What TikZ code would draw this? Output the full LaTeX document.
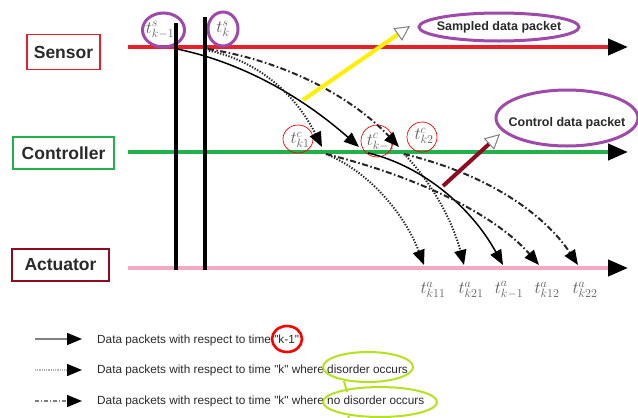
\documentclass[tikz,border=0pt]{standalone}
\usepackage{fontspec}
\newfontfamily\lab{Liberation Sans}
\usetikzlibrary{arrows.meta}
\definecolor{sred}{HTML}{E8202A}
\definecolor{cgreen}{HTML}{22B04B}
\definecolor{apink}{HTML}{F5A8C2}
\definecolor{amaroon}{HTML}{8E0B22}
\definecolor{mpurple}{HTML}{9E4AA8}
\definecolor{hyellow}{HTML}{FFF000}
\definecolor{lime}{HTML}{B4E21E}
\definecolor{txt}{HTML}{2A2A2A}
\definecolor{tlab}{HTML}{5E5E5E}
\tikzset{
  lanebox/.style={draw, line width=1.6pt, text=txt, inner sep=0pt,
    font=\lab\bfseries\fontsize{17.5}{18}\selectfont},
  laneline/.style={line width=4pt,
    -{Triangle[length=20pt,width=16pt,color=black,fill=black]}},
  timeline/.style={line width=4pt, black},
  tip/.style={-{Triangle[length=15pt,width=12pt,color=black,fill=black]}},
  solidpk/.style={tip, line width=1.5pt, black},
  dotpk/.style={tip, line width=2pt, black!85, dash pattern=on 1.3pt off 1.6pt},
  dashdotpk/.style={tip, line width=2pt, black!85,
    dash pattern=on 6pt off 2.5pt on 1.5pt off 2.5pt},
  tlabel/.style={text=tlab, font=\fontsize{18}{19}\selectfont, inner sep=0pt},
  alabel/.style={tlabel, font=\fontsize{16.5}{18}\selectfont},
  callout/.style={line width=4pt,
    -{Triangle[open,length=15pt,width=15pt,line width=1pt,color=gray,fill=white]}},
  calltext/.style={text=txt, font=\lab\bfseries\fontsize{12.5}{14}\selectfont},
  legtext/.style={text=txt, anchor=west, inner sep=0pt,
    font=\lab\fontsize{11.8}{13}\selectfont},
  legline/.style={line width=1.6pt,
    -{Triangle[length=15pt,width=12pt,color=black,fill=black]}},
}
\begin{document}
\begin{tikzpicture}[x=1pt,y=-1pt]
\fill[white] (0,0) rectangle (638,418);
\useasboundingbox (0,0) rectangle (638,418);

% lane labels
\node[lanebox, draw=sred, minimum width=73pt, minimum height=35pt] (sensor) at (63.5,52) {Sensor};
\node[lanebox, draw=cgreen, minimum width=101pt, minimum height=32pt] (controller) at (63.5,153) {Controller};
\node[lanebox, draw=amaroon, minimum width=97pt, minimum height=32pt] (actuator) at (60.5,265) {Actuator};

% lanes
\coordinate (s0) at (128,47);  \coordinate (s1) at (628,47);
\coordinate (c0) at (128,152); \coordinate (c1) at (628,152);
\coordinate (a0) at (128,268); \coordinate (a1) at (628,268);
\draw[laneline, draw=sred] (s0) -- (s1);
\draw[laneline, draw=cgreen] (c0) -- (c1);
\draw[laneline, draw=apink] (a0) -- (a1);

% sampling instants
\node[tlabel] (tsk1) at (160,30) {$t^{s}_{k-1}$};
\node[tlabel] (tsk) at (223,29) {$t^{s}_{k}$};
\draw[mpurple, line width=3pt] (163.5,30) ellipse [x radius=21pt, y radius=17pt];
\draw[mpurple, line width=3pt] (223,29) ellipse [x radius=15pt, y radius=17pt];
\coordinate (v1t) at (176,23); \coordinate (v1b) at (176,270);
\coordinate (v2t) at (205,17); \coordinate (v2b) at (205,270);
\draw[timeline] (v1t) -- (v1b);
\draw[timeline] (v2t) -- (v2b);

% controller instants
\node[tlabel] (tck1) at (300,140) {$t^{c}_{k1}$};
\node[tlabel] (tckm) at (381,142) {$t^{c}_{k-1}$};
\node[tlabel] (tck2) at (424,136) {$t^{c}_{k2}$};
\draw[red, line width=0.7pt] (298,139) ellipse [x radius=15pt, y radius=14pt];
\draw[red, line width=0.7pt] (377,141) ellipse [x radius=16pt, y radius=16pt];
\draw[red, line width=0.7pt] (422,137) ellipse [x radius=15pt, y radius=15pt];

% actuator instants
\node[alabel] (tak11) at (433,290) {$t^{a}_{k11}$};
\node[alabel] (tak21) at (471,290) {$t^{a}_{k21}$};
\node[alabel] (takm)  at (509,290) {$t^{a}_{k-1}$};
\node[alabel] (tak12) at (547,290) {$t^{a}_{k12}$};
\node[alabel] (tak22) at (585,290) {$t^{a}_{k22}$};

% sensor -> controller packets
\coordinate (ps1) at (177,49);
\coordinate (ps2) at (206,50);
\coordinate (ps3) at (208,49);
\coordinate (pc1) at (322,147);
\coordinate (pcm) at (359,147);
\coordinate (pc2) at (399,147);
\draw[solidpk] (ps1) .. controls (240,62) and (300,95) .. (pcm);
\draw[dotpk] (ps2) .. controls (258,60) and (296,95) .. (pc1);
\draw[dashdotpk] (ps3) .. controls (290,62) and (355,100) .. (pc2);

% controller -> actuator packets
\coordinate (qk1) at (326,154);
\coordinate (qkm) at (368,153);
\coordinate (qk2) at (404,154);
\coordinate (ak11) at (424,265);
\coordinate (ak21) at (464,265);
\coordinate (akm) at (503,265);
\coordinate (ak12) at (539,265);
\coordinate (ak22) at (578,265);
\draw[dotpk] (qk1) .. controls (370,172) and (405,215) .. (ak11);
\draw[dotpk] (qk2) .. controls (428,178) and (452,218) .. (ak21);
\draw[solidpk] (qkm) .. controls (420,165) and (470,205) .. (akm);
\draw[dashdotpk] (qk1) .. controls (430,180) and (500,220) .. (ak12);
\draw[dashdotpk] (qk2) .. controls (490,175) and (545,215) .. (ak22);

% callouts
\node[calltext] (sdp) at (499,27) {Sampled data packet};
\draw[mpurple, line width=3pt] (sdp) ellipse [x radius=80pt, y radius=14pt];
\coordinate (y0) at (303,100);
\coordinate (y1) at (410,26);
\draw[callout, draw=hyellow] (y0) -- (y1);

\node[calltext] (cdp) at (567,123) {Control data packet};
\draw[mpurple, line width=3pt] (567,118) ellipse [x radius=71pt, y radius=28pt];
\coordinate (m0) at (443,186);
\coordinate (m1) at (500,134);
\draw[callout, draw=amaroon] (m0) -- (m1);

% legend
\coordinate (l1a) at (35,339); \coordinate (l1b) at (82,339);
\coordinate (l2a) at (35,370); \coordinate (l2b) at (82,370);
\coordinate (l3a) at (35,401); \coordinate (l3b) at (82,401);
\draw[legline, draw=gray] (l1a) -- (l1b);
\draw[legline, draw=gray!60, line width=1.4pt, dash pattern=on 1pt off 0.8pt] (l2a) -- (l2b);
\draw[legline, draw=gray, line width=1.4pt, dash pattern=on 4pt off 2pt on 1pt off 2pt] (l3a) -- (l3b);
\node[legtext] (leg1) at (97,340) {Data packets with respect to time "k-1"};
\node[legtext] (leg2) at (97,370) {Data packets with respect to time "k" where disorder occurs};
\node[legtext] (leg3) at (97,401) {Data packets with respect to time "k" where no disorder occurs};
\draw[red, line width=2.6pt] (287,339) ellipse [x radius=15pt, y radius=13pt];
\draw[lime, line width=2pt] (368,367) ellipse [x radius=45pt, y radius=15pt];
\draw[lime, line width=2pt] (380,402) ellipse [x radius=57pt, y radius=15pt];
\draw[lime, line width=2pt] (344,381) -- (347,392);
\draw[lime, line width=2pt] (348,416) -- (349,418);
\end{tikzpicture}
\end{document}
